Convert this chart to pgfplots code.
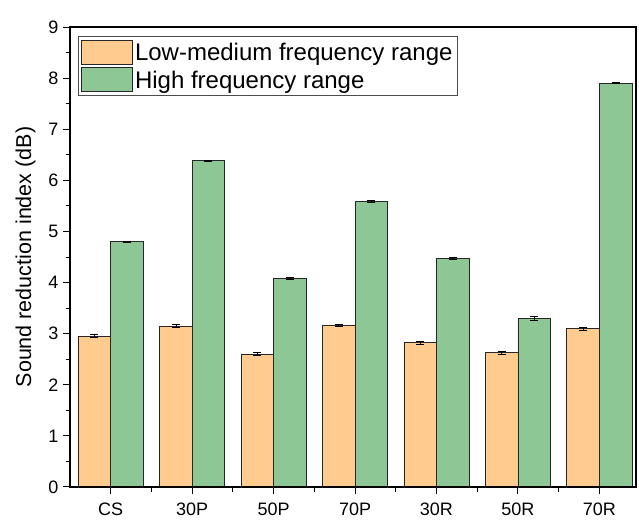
\documentclass[border=0pt]{standalone}
\usepackage{pgfplots}
\pgfplotsset{compat=1.18}
\usepackage{fontspec}
\setmainfont{Liberation Sans}
\definecolor{lowc}{HTML}{FFCB8E}
\definecolor{highc}{HTML}{8DC795}
\pgfplotstableread{
x  low   lowerr high  higherr
0  2.95  0.03   4.80  0.015
1  3.15  0.03   6.39  0.01
2  2.60  0.03   4.09  0.02
3  3.16  0.015  5.59  0.015
4  2.82  0.03   4.47  0.02
5  2.63  0.03   3.30  0.04
6  3.10  0.03   7.90  0.01
}\datatable
\begin{document}
\begin{tikzpicture}
\useasboundingbox (0,0) rectangle (639bp,520bp);
\begin{axis}[
  at={(70bp,33bp)}, anchor=south west,
  scale only axis, width=566bp, height=460bp,
  ybar, bar width=0.4,
  xmin=-0.5, xmax=6.45, ymin=0, ymax=9,
  axis on top,
  xtick={0,...,6}, xticklabels={CS,30P,50P,70P,30R,50R,70R},
  minor xtick={0.5,1.5,...,5.5},
  ytick={0,...,9}, minor ytick={0.5,1.5,...,8.5},
  tick align=outside, xtick pos=bottom, ytick pos=left,
  major tick length=7bp, minor tick length=4.5bp,
  every tick/.style={black, line width=1bp},
  axis line style={line width=1.3bp},
  tick label style={font=\fontsize{18bp}{20bp}\selectfont},
  /pgf/number format/assume math mode=true,
  ylabel={Sound reduction index (dB)},
  ylabel style={font=\fontsize{21.5bp}{24bp}\selectfont, at={(axis description cs:0,0.5)}, anchor=south, yshift=31bp},
  xticklabel style={yshift=-5bp},
  yticklabel style={xshift=-1bp},
  legend style={at={(axis description cs:0.014,0.98)}, anchor=north west, draw=black!70, line width=0.6bp,
    font=\fontsize{24bp}{26bp}\selectfont, row sep=3bp, inner xsep=3bp, inner ysep=3bp},
  legend cell align=left,
  legend image code/.code={\draw[#1, draw=black!85, line width=0.8bp] (0bp,-11bp) rectangle (51bp,13bp);},
  error bars/error bar style={black, line width=0.6bp},
  error bars/error mark options={rotate=90, mark size=4bp, black, line width=0.6bp},
]
\addplot[bar shift=-0.2, fill=lowc, draw=black!85, line width=0.8bp,
  error bars/.cd, y dir=both, y explicit]
  table[x=x, y=low, y error=lowerr] {\datatable};
\addlegendentry{Low-medium frequency range}
\addplot[bar shift=0.2, fill=highc, draw=black!85, line width=0.8bp,
  error bars/.cd, y dir=both, y explicit]
  table[x=x, y=high, y error=higherr] {\datatable};
\addlegendentry{High frequency range}
\end{axis}
\end{tikzpicture}
\end{document}
